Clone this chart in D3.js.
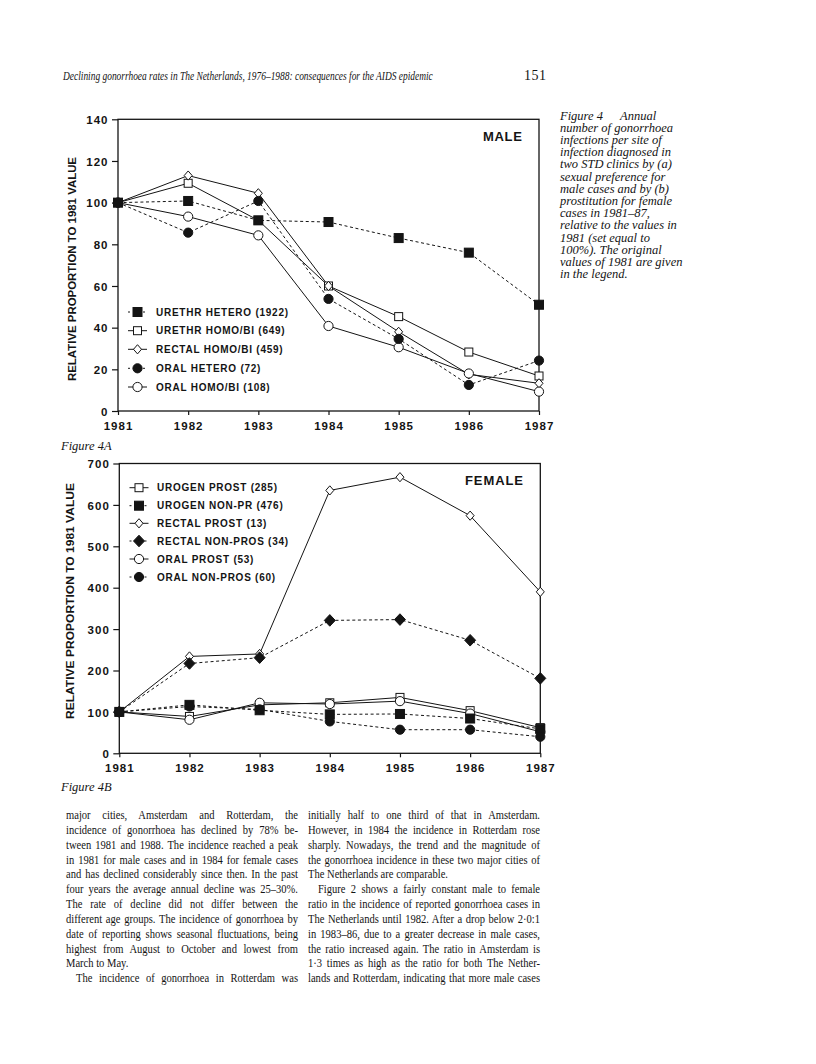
<!DOCTYPE html>
<html><head><meta charset="utf-8">
<script src="https://cdn.jsdelivr.net/npm/d3@7"></script>
<style>body{margin:0;background:#fff}svg{display:block}</style>
</head><body><svg id="page" width="816" height="1064"></svg>
<script>
// ---------- data ----------
const years = [1981, 1982, 1983, 1984, 1985, 1986, 1987];
const maleTicks = [0, 20, 40, 60, 80, 100, 120, 140];
const femaleTicks = [0, 100, 200, 300, 400, 500, 600, 700];

const maleLabels = ["URETHR HETERO (1922)", "URETHR HOMO/BI (649)", "RECTAL HOMO/BI (459)", "ORAL HETERO (72)", "ORAL HOMO/BI (108)"];
const urethrHetero = [100, 100.8, 91.5, 90.7, 83, 76, 51];
const urethrHomoBi = [100, 109.3, 91.5, 60, 45.3, 28.3, 16.8];
const rectalHomoBi = [100, 113, 104.5, 60, 38, 17.6, 13.3];
const oralHetero   = [100, 85.6, 100.8, 53.8, 34.6, 12.5, 24.2];
const oralHomoBi   = [100, 93.3, 84.3, 40.8, 30.6, 18, 9.3];

const femaleLabels = ["UROGEN PROST (285)", "UROGEN NON-PR (476)", "RECTAL PROST (13)", "RECTAL NON-PROS (34)", "ORAL PROST (53)", "ORAL NON-PROS (60)"];
const urogenProst   = [100, 89, 117, 122, 135, 103, 62];
const urogenNonPr   = [100, 117, 104, 94, 95, 84, 59];
const rectalProst   = [100, 234, 240, 635, 667, 574, 390];
const rectalNonPros = [100, 217, 231, 321, 323, 273, 181];
const oralProst     = [100, 81, 122, 119, 126, 96, 52];
const oralNonPros   = [100, 113, 106, 77, 57, 57, 40];

const headerText = "Declining gonorrhoea rates in The Netherlands, 1976\u20131988: consequences for the AIDS epidemic";
const pageNumber = "151";
const captionLines = [
  "number of gonorrhoea", "infections per site of", "infection diagnosed in",
  "two STD clinics by (a)", "sexual preference for", "male cases and by (b)",
  "prostitution for female", "cases in 1981\u201387,", "relative to the values in",
  "1981 (set equal to", "100%). The original", "values of 1981 are given", "in the legend."
];
const leftColumn = [
  ["major cities, Amsterdam and Rotterdam, the", 1, 0],
  ["incidence of gonorrhoea has declined by 78% be-", 1, 0],
  ["tween 1981 and 1988. The incidence reached a peak", 1, 0],
  ["in 1981 for male cases and in 1984 for female cases", 1, 0],
  ["and has declined considerably since then. In the past", 1, 0],
  ["four years the average annual decline was 25\u201330%.", 1, 0],
  ["The rate of decline did not differ between the", 1, 0],
  ["different age groups. The incidence of gonorrhoea by", 1, 0],
  ["date of reporting shows seasonal fluctuations, being", 1, 0],
  ["highest from August to October and lowest from", 1, 0],
  ["March to May.", 0, 0],
  ["The incidence of gonorrhoea in Rotterdam was", 1, 10]
];
const rightColumn = [
  ["initially half to one third of that in Amsterdam.", 1, 0],
  ["However, in 1984 the incidence in Rotterdam rose", 1, 0],
  ["sharply. Nowadays, the trend and the magnitude of", 1, 0],
  ["the gonorrhoea incidence in these two major cities of", 1, 0],
  ["The Netherlands are comparable.", 0, 0],
  ["Figure 2 shows a fairly constant male to female", 1, 10],
  ["ratio in the incidence of reported gonorrhoea cases in", 1, 0],
  ["The Netherlands until 1982. After a drop below 2\u00b70:1", 1, 0],
  ["in 1983\u201386, due to a greater decrease in male cases,", 1, 0],
  ["the ratio increased again. The ratio in Amsterdam is", 1, 0],
  ["1\u00b73 times as high as the ratio for both The Nether-", 1, 0],
  ["lands and Rotterdam, indicating that more male cases", 1, 0]
];

// ---------- drawing ----------
const svg = d3.select('#page');
const ink = '#141414';
const SANS = 'Arial, "Liberation Sans", Helvetica, sans-serif';
const SERIF = '"Liberation Serif", "DejaVu Serif", serif';

function drawMarker(g, kind, cx, cy) {
  let el;
  if (kind === 'fsq' || kind === 'osq') {
    const s = kind === 'fsq' ? 9 : 8;
    el = g.append('rect').attr('x', cx - s / 2).attr('y', cy - s / 2).attr('width', s).attr('height', s);
  } else if (kind === 'fci' || kind === 'oci') {
    el = g.append('circle').attr('cx', cx).attr('cy', cy).attr('r', 4.6);
  } else {
    const w = kind === 'fdi' ? 5.5 : 4, h = kind === 'fdi' ? 5.8 : 4.6;
    el = g.append('path').attr('d', `M${cx},${cy - h}L${cx + w},${cy}L${cx},${cy + h}L${cx - w},${cy}Z`);
  }
  const filled = kind[0] === 'f';
  el.attr('fill', filled ? ink : '#fff').attr('stroke', ink).attr('stroke-width', 1);
}

function chart(o) {
  const x = d3.scaleLinear().domain([1981, 1987]).range([o.x0, o.x1]);
  const y = d3.scaleLinear().domain([0, o.max]).range([o.yb, o.yt]);
  const g = svg.append('g');

  const line = d3.line().x((d, i) => x(years[i])).y(d => y(d));
  o.series.forEach(s => {
    g.append('path').attr('d', line(s.values)).attr('fill', 'none')
      .attr('stroke', ink).attr('stroke-width', 1)
      .attr('stroke-dasharray', s.dashed ? '3,2.6' : null);
  });

  g.append('rect').attr('x', o.x0).attr('y', o.yt).attr('width', o.x1 - o.x0).attr('height', o.yb - o.yt)
    .attr('fill', 'none').attr('stroke', ink).attr('stroke-width', 1.3);

  const ay = g.append('g').attr('transform', `translate(${o.x0},0)`)
    .call(d3.axisLeft(y).tickValues(o.ticks).tickSize(6).tickPadding(3.5));
  const ax = g.append('g').attr('transform', `translate(0,${o.yb})`)
    .call(d3.axisBottom(x).tickValues(years).tickFormat(d3.format('d')).tickSize(4).tickPadding(6.5));
  [ax, ay].forEach(a => {
    a.select('.domain').remove();
    a.selectAll('line').attr('stroke', ink).attr('stroke-width', 1.2);
    a.selectAll('text').attr('fill', ink).style('font', `bold 11.5px ${SANS}`).style('letter-spacing', '1px');
  });
  ay.selectAll('text').attr('dy', '0.36em');

  const order = o.series.filter(s => s.kind[0] === 'o').concat(o.series.filter(s => s.kind[0] === 'f'));
  order.forEach(s => s.values.forEach((v, i) => drawMarker(g, s.kind, x(years[i]), y(v))));

  g.append('text').attr('transform', `translate(${o.atx},${o.aty}) rotate(-90)`)
    .attr('text-anchor', 'middle').attr('fill', ink)
    .attr('textLength', o.atLen).attr('lengthAdjust', 'spacingAndGlyphs')
    .style('font', `bold 11.5px ${SANS}`)
    .text('RELATIVE PROPORTION TO 1981 VALUE');

  g.append('text').attr('x', o.tx).attr('y', o.ty).attr('fill', ink)
    .style('font', `bold 13px ${SANS}`).style('letter-spacing', o.tls)
    .text(o.title);

  o.series.forEach((s, i) => {
    const cy = o.legRows[i];
    g.append('line').attr('x1', o.legX - 9.5).attr('x2', o.legX + 9.5).attr('y1', cy).attr('y2', cy)
      .attr('stroke', ink).attr('stroke-width', 1).attr('stroke-dasharray', s.dashed ? '2,3' : null);
    drawMarker(g, s.kind, o.legX, cy);
    g.append('text').attr('x', o.legTX).attr('y', cy).attr('dy', '0.36em').attr('fill', ink)
      .style('font', `bold 10px ${SANS}`).style('letter-spacing', '0.75px')
      .text(s.label);
  });
}

chart({
  x0: 118, x1: 539, yt: 119.3, yb: 411, max: 140, ticks: maleTicks,
  series: [
    { values: urethrHetero, kind: 'fsq', dashed: true, label: maleLabels[0] },
    { values: urethrHomoBi, kind: 'osq', dashed: false, label: maleLabels[1] },
    { values: rectalHomoBi, kind: 'odi', dashed: false, label: maleLabels[2] },
    { values: oralHetero, kind: 'fci', dashed: true, label: maleLabels[3] },
    { values: oralHomoBi, kind: 'oci', dashed: false, label: maleLabels[4] }
  ],
  atx: 76, aty: 269, atLen: 224,
  title: 'MALE', tx: 483, ty: 141, tls: '0.7px',
  legX: 137.5, legTX: 156, legRows: [312, 330.7, 349.3, 368.3, 387]
});

chart({
  x0: 119.3, x1: 540.3, yt: 463.5, yb: 753.3, max: 700, ticks: femaleTicks,
  series: [
    { values: urogenProst, kind: 'osq', dashed: false, label: femaleLabels[0] },
    { values: urogenNonPr, kind: 'fsq', dashed: true, label: femaleLabels[1] },
    { values: rectalProst, kind: 'odi', dashed: false, label: femaleLabels[2] },
    { values: rectalNonPros, kind: 'fdi', dashed: true, label: femaleLabels[3] },
    { values: oralProst, kind: 'oci', dashed: false, label: femaleLabels[4] },
    { values: oralNonPros, kind: 'fci', dashed: true, label: femaleLabels[5] }
  ],
  atx: 74, aty: 601, atLen: 236,
  title: 'FEMALE', tx: 465, ty: 485, tls: '0.9px',
  legX: 139, legTX: 157, legRows: [487.7, 505.7, 523.3, 541, 559, 577]
});

// header (condensed via horizontal scale so its box matches what is drawn)
const hdrG = svg.append('g');
const hdr = hdrG.append('text').attr('x', 0).attr('y', 80).attr('fill', ink)
  .style('font', `italic 13px ${SERIF}`).text(headerText);
const hw = hdr.node().getComputedTextLength();
hdrG.attr('transform', `translate(63,0) scale(${370 / hw},1)`);
svg.append('text').attr('x', 524).attr('y', 80).attr('fill', ink)
  .style('font', `14px ${SERIF}`).style('letter-spacing', '0.5px').text(pageNumber);

// caption
const cap = svg.append('g').attr('fill', ink).style('font', `italic 12.5px ${SERIF}`);
const capFirst = cap.append('text').attr('y', 119.5);
capFirst.append('tspan').attr('x', 560).text('Figure 4');
capFirst.append('tspan').attr('x', 620).text('Annual');
captionLines.forEach((t, i) => cap.append('text').attr('x', 560).attr('y', 119.5 + (i + 1) * 12.2).text(t));

// figure labels
svg.append('text').attr('x', 61).attr('y', 450).attr('fill', ink).style('font', `italic 12.5px ${SERIF}`).text('Figure 4A');
svg.append('text').attr('x', 61).attr('y', 791).attr('fill', ink).style('font', `italic 12.5px ${SERIF}`).text('Figure 4B');

// body text columns (justified)
const sx = 0.8;
function column(lines, x0, width) {
  const g = svg.append('g').attr('transform', `translate(${x0},0) scale(${sx},1)`)
    .attr('fill', ink).style('font', `13.2px ${SERIF}`);
  lines.forEach(([t, just, indent], i) => {
    const el = g.append('text').attr('x', indent / sx).attr('y', 819 + i * 14.85).text(t);
    if (just) {
      const target = (width - indent) / sx;
      const w = el.node().getComputedTextLength();
      const n = (t.match(/ /g) || []).length;
      if (n > 0) el.attr('word-spacing', ((target - w) / n) + 'px');
    }
  });
}
column(leftColumn, 66, 232);
column(rightColumn, 308, 232);
</script>
</body></html>
